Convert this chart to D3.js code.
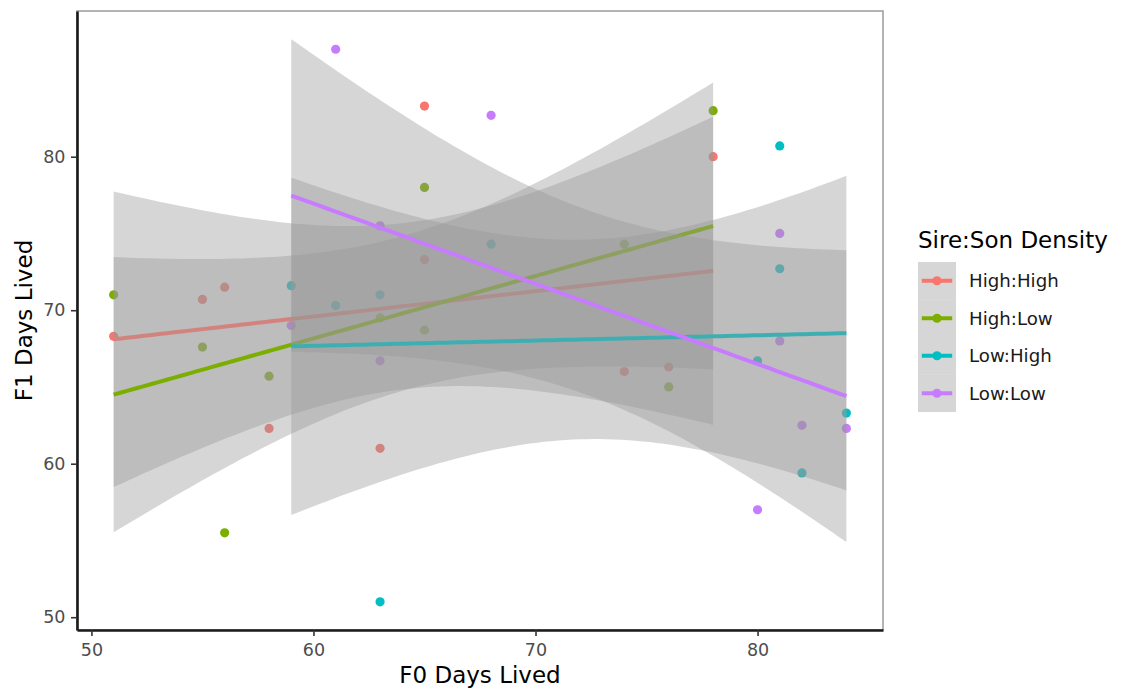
<!DOCTYPE html>
<html><head><meta charset="utf-8">
<script src="https://cdn.jsdelivr.net/npm/d3@7"></script>
<style>
body{margin:0;background:#fff}
text{font-family:"DejaVu Sans",sans-serif}
</style>
</head><body>
<svg id="chart" width="1128" height="695"></svg>
<script>
// ---- data ----
const groups = ["High:High", "High:Low", "Low:High", "Low:Low"];
const groupColors = ["#F8766D", "#7CAE00", "#00BFC4", "#C77CFF"];
const xTicks = [50, 60, 70, 80];
const yTicks = [50, 60, 70, 80];

const highHighF0 = [51, 55, 56, 58, 63, 65, 65, 74, 76, 78];
const highHighF1 = [68.3, 70.7, 71.5, 62.3, 61.0, 83.3, 73.3, 66.0, 66.3, 80.0];
const highLowF0  = [51, 55, 56, 58, 63, 65, 65, 74, 76, 78];
const highLowF1  = [71.0, 67.6, 55.5, 65.7, 69.5, 78.0, 68.7, 74.3, 65.0, 83.0];
const lowHighF0  = [59, 61, 63, 63, 68, 80, 81, 81, 82, 84];
const lowHighF1  = [71.6, 70.3, 71.0, 51.0, 74.3, 66.7, 80.7, 72.7, 59.4, 63.3];
const lowLowF0   = [59, 61, 63, 63, 68, 80, 81, 81, 82, 84];
const lowLowF1   = [69.0, 87.0, 75.5, 66.7, 82.7, 57.0, 75.0, 68.0, 62.5, 62.3];

const groupF0 = [highHighF0, highLowF0, lowHighF0, lowLowF0];
const groupF1 = [highHighF1, highLowF1, lowHighF1, lowLowF1];

// Student t quantile (0.975) by degrees of freedom (each group has 10 points -> df 8)
const tQuantile975 = {8: 2.306004};

// ---- linear model + 95% confidence band (geom_smooth(method = "lm")) ----
function lmBand(xs, ys, nGrid) {
  const n = xs.length;
  const mx = d3.mean(xs), my = d3.mean(ys);
  const sxx = d3.sum(xs, x => (x - mx) ** 2);
  const sxy = d3.sum(xs.map((x, i) => (x - mx) * (ys[i] - my)));
  const b = sxy / sxx, a = my - b * mx;
  const ssr = d3.sum(xs.map((x, i) => (ys[i] - (a + b * x)) ** 2));
  const s = Math.sqrt(ssr / (n - 2));
  const t = tQuantile975[n - 2];
  const [x0, x1] = d3.extent(xs);
  return d3.range(nGrid).map(k => {
    const x = x0 + (x1 - x0) * k / (nGrid - 1);
    const fit = a + b * x;
    const se = s * Math.sqrt(1 / n + (x - mx) ** 2 / sxx);
    return {x, fit, lo: fit - t * se, hi: fit + t * se};
  });
}
const bands = groups.map((g, i) => lmBand(groupF0[i], groupF1[i], 80));

// ---- layout ----
const svg = d3.select("#chart");
const panel = {left: 77, right: 883, top: 11, bottom: 630};

const allX = groupF0.flat();
const allY = groupF1.flat().concat(bands.flat().flatMap(d => [d.lo, d.hi]));
function expand([lo, hi]) { const r = hi - lo; return [lo - 0.05 * r, hi + 0.05 * r]; }

const x = d3.scaleLinear().domain(expand(d3.extent(allX))).range([panel.left, panel.right]);
const y = d3.scaleLinear().domain(expand(d3.extent(allY))).range([panel.bottom, panel.top]);
const color = d3.scaleOrdinal().domain(groups).range(groupColors);

// panel border
svg.append("rect")
  .attr("x", panel.left).attr("y", panel.top)
  .attr("width", panel.right - panel.left).attr("height", panel.bottom - panel.top)
  .attr("fill", "none").attr("stroke", "#9a9a9a").attr("stroke-width", 1.5);

// points
const points = groups.flatMap((g, i) => groupF0[i].map((v, j) => ({g, x: v, y: groupF1[i][j]})));
svg.append("g").selectAll("circle").data(points).join("circle")
  .attr("cx", d => x(d.x)).attr("cy", d => y(d.y)).attr("r", 4.6)
  .attr("fill", d => color(d.g));

// smooths: ribbon then line, per group
const area = d3.area().x(d => x(d.x)).y0(d => y(d.lo)).y1(d => y(d.hi));
const line = d3.line().x(d => x(d.x)).y(d => y(d.fit));
groups.forEach((g, i) => {
  svg.append("path").datum(bands[i]).attr("d", area)
    .attr("fill", "#999999").attr("fill-opacity", 0.4);
  svg.append("path").datum(bands[i]).attr("d", line)
    .attr("fill", "none").attr("stroke", color(g)).attr("stroke-width", 4);
});

// axes
const xAxis = svg.append("g").attr("transform", `translate(0,${panel.bottom})`)
  .call(d3.axisBottom(x).tickValues(xTicks).tickSize(6).tickSizeOuter(0).tickPadding(7.5));
const yAxis = svg.append("g").attr("transform", `translate(${panel.left},0)`)
  .call(d3.axisLeft(y).tickValues(yTicks).tickSize(6).tickSizeOuter(0).tickPadding(5.5));
[xAxis, yAxis].forEach(ax => {
  ax.select(".domain").attr("stroke", "#1a1a1a").attr("stroke-width", 2.6);
  ax.selectAll(".tick line").attr("stroke", "#333").attr("stroke-width", 1.6);
  ax.selectAll(".tick text").attr("fill", "#4d4d4d").style("font-size", "17.5px")
    .style("font-family", "DejaVu Sans");
});

// axis titles
svg.append("text").attr("x", (panel.left + panel.right) / 2).attr("y", 683)
  .attr("text-anchor", "middle").style("font-size", "23px").attr("fill", "#000")
  .text("F0 Days Lived");
svg.append("text").attr("transform", `translate(32,${(panel.top + panel.bottom) / 2}) rotate(-90)`)
  .attr("text-anchor", "middle").style("font-size", "23px").attr("fill", "#000")
  .text("F1 Days Lived");

// legend
const legend = svg.append("g");
legend.append("text").attr("x", 918).attr("y", 248).style("font-size", "23px")
  .attr("fill", "#000").text("Sire:Son Density");
const keyBand = d3.scaleBand().domain(groups).range([262, 412]);
const keyX0 = 918, keyW = 38;
const keys = legend.selectAll("g.key").data(groups).join("g").attr("class", "key");
keys.append("rect").attr("x", keyX0).attr("y", d => keyBand(d))
  .attr("width", keyW).attr("height", keyBand.bandwidth())
  .attr("fill", "#999999").attr("fill-opacity", 0.4);
keys.append("line")
  .attr("x1", keyX0 + keyW * 0.1).attr("x2", keyX0 + keyW * 0.9)
  .attr("y1", d => keyBand(d) + keyBand.bandwidth() / 2)
  .attr("y2", d => keyBand(d) + keyBand.bandwidth() / 2)
  .attr("stroke", d => color(d)).attr("stroke-width", 4);
keys.append("circle").attr("cx", keyX0 + keyW / 2)
  .attr("cy", d => keyBand(d) + keyBand.bandwidth() / 2).attr("r", 4.6)
  .attr("fill", d => color(d));
keys.append("text").attr("x", 969)
  .attr("y", d => keyBand(d) + keyBand.bandwidth() / 2).attr("dy", "0.36em")
  .style("font-size", "18.2px").attr("fill", "#1a1a1a").text(d => d);
</script>
</body></html>
